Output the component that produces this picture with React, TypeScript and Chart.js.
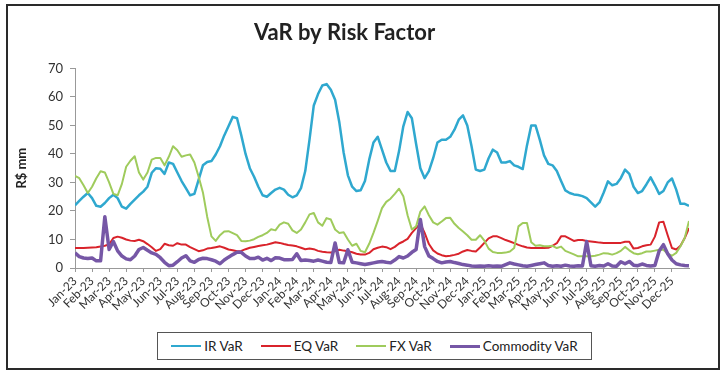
import React, { useEffect, useRef } from "react";
import { Chart, registerables } from "chart.js";

Chart.register(...registerables);

const FONT = "Lato, 'Open Sans', 'DejaVu Sans', sans-serif";

const MONTHS = [
  "Jan-23", "Feb-23", "Mar-23", "Apr-23", "May-23", "Jun-23", "Jul-23", "Aug-23", "Sep-23", "Oct-23", "Nov-23", "Dec-23",
  "Jan-24", "Feb-24", "Mar-24", "Apr-24", "May-24", "Jun-24", "Jul-24", "Aug-24", "Sep-24", "Oct-24", "Nov-24", "Dec-24",
  "Jan-25", "Feb-25", "Mar-25", "Apr-25", "May-25", "Jun-25", "Jul-25", "Aug-25", "Sep-25", "Oct-25", "Nov-25", "Dec-25",
];

const POINTS_PER_MONTH = 4;

const SERIES_NAMES = ["IR VaR", "EQ VaR", "FX VaR", "Commodity VaR"];
const SERIES_COLORS = ["#2fa8cf", "#d9232b", "#9fcb5c", "#7657a6"];
const SERIES_WIDTHS = [2.5, 2, 2, 3.5];

const IR_VAR = [
  22, 23.5, 25, 26.3,
  24.5, 21.8, 21.5, 22.8,
  24.5, 25.7, 24.5, 21.5,
  20.8, 22.5, 24, 25.5,
  26.8, 28.5, 33.4, 35,
  34.8, 33, 37, 36.5,
  33.5, 30.5, 28, 25.5,
  26, 31, 36, 37.2,
  37.5, 39.8, 42.7, 46.5,
  49.7, 53, 52.5, 46.5,
  40, 35, 32, 28.5,
  25.5, 25, 26.3, 27.5,
  28.1, 27.5, 25.7, 24.8,
  25.5, 28, 34, 45,
  57, 61, 64, 64.5,
  62.5, 59, 51, 40.5,
  32.5, 28.5, 27, 27.3,
  30.5, 38, 44, 46,
  41.5, 37, 34, 34,
  41, 49.7, 54.7, 52.5,
  43.5, 35, 31.5, 34,
  38.5, 44, 45, 45,
  46, 48.5, 52, 53.5,
  50, 42.7, 34.5, 34,
  34.5, 38.5, 41.5, 40.5,
  37, 37, 37.5, 36,
  35.5, 34.7, 43, 50,
  50, 45, 39.5, 36.5,
  36, 34, 30.5, 27.2,
  26.3, 25.8, 25.6, 25.2,
  24.5, 23, 21.5, 23,
  26.5, 30.4, 29, 29.5,
  31.5, 34.5, 33, 28.5,
  26.3, 27, 29.3, 31.8,
  29, 26, 27, 30,
  31.4, 27.5, 22.5, 22.5,
  21.8,
];

const EQ_VAR = [
  7, 7, 7, 7.1,
  7.2, 7.3, 7.5, 7.8,
  8.3, 10.5, 11, 10.6,
  10, 9.6, 9.5, 9.9,
  9.4, 8.4, 7.3, 6,
  6.6, 8.5, 8, 7.8,
  8.7, 8.2, 8.2, 7.3,
  6.6, 5.9, 6.2, 6.8,
  7, 7.3, 7.6, 7.1,
  6.5, 6.2, 5.9, 6,
  6.6, 7.1, 7.4, 7.7,
  8, 8.2, 8.6, 9,
  8.8, 8.4, 8.1, 7.9,
  7.6, 7.1, 6.6, 6.8,
  6.6, 6, 5.7, 5.5,
  5.4, 5.9, 6.4, 6.1,
  5.9, 5.5, 5, 4.7,
  4.7, 5.3, 6.6, 7.1,
  7.5, 7.3, 6.6, 7.4,
  8.6, 9.3, 10.2, 12.3,
  14, 15.5, 12.3, 8.4,
  6.2, 5.1, 4.5, 4.1,
  4.3, 4.6, 5, 5.8,
  6.3, 6, 5.8, 7.2,
  8.8, 10.4, 11.1, 11.1,
  10.5, 9.8, 9.3, 8.7,
  8.1, 7.6, 7.2, 7,
  7, 7, 7, 7.1,
  7.8, 8.7, 11.1, 11.1,
  10.3, 9.5, 9.8, 9.8,
  9.5, 9.3, 9.1, 8.9,
  8.8, 8.8, 8.8, 8.8,
  8.8, 9.2, 9.2, 6.8,
  7, 7.6, 8, 8.2,
  11, 16, 16.2, 11.5,
  7, 6.5, 7.8, 10.5,
  14,
];

const FX_VAR = [
  32.3, 31.5, 29, 26.3,
  28.5, 31.5, 33.9, 33.5,
  30, 26, 25.5, 29.5,
  35.5, 37.6, 39.2, 33.5,
  31, 33.5, 38, 38.6,
  38.6, 36, 39, 42.7,
  41.3, 39, 39.5, 39.8,
  37, 32, 26.5, 18,
  11.1, 9.5, 11.5, 12.8,
  12.9, 12.2, 11.5, 9.5,
  9.4, 9.6, 10.1, 10.9,
  11.5, 12.3, 13.6, 13.2,
  15.2, 16, 15.5, 13.2,
  12.3, 13.5, 16, 18.8,
  19.3, 16, 14.8, 17.5,
  17, 13.5, 12.3, 12.5,
  10, 7.8, 8.5, 6,
  5.5, 8.5, 12.3, 16.5,
  21, 23.2, 24.3, 26,
  27.8, 25.2, 18.5, 13.5,
  14.6, 19.8, 21.6, 18.5,
  16, 15.2, 16.3, 17.5,
  17.6, 15.5, 14, 12.8,
  11.5, 9.9, 9.9, 11.5,
  9.6, 6.8, 5.6, 5.3,
  5.3, 5.4, 5.8, 7,
  14.6, 15.8, 15.8, 9,
  7.8, 8, 7.6, 7.6,
  7.8, 7, 7.5, 6,
  5.4, 4.8, 4.1, 4.1,
  4.1, 4.1, 4.3, 4.7,
  5.2, 5.1, 4.7, 5.2,
  6, 7.4, 6.2, 5.2,
  4.8, 5.2, 5.8, 5.8,
  6.1, 6.4, 6.4, 5,
  4.3, 5.3, 7.6, 10.5,
  16.5,
];

const COMMODITY_VAR = [
  5.3, 4, 3.5, 3.3,
  3.5, 2.5, 2.5, 18,
  6.5, 9.3, 6, 4.2,
  3.2, 2.9, 4.2, 6.5,
  7.2, 6.2, 5.3, 4.8,
  3.6, 2, 0.8, 1,
  2.2, 3.5, 4.3, 2.5,
  2, 3, 3.4, 3.3,
  2.9, 2.4, 1.5, 2.8,
  3.8, 4.7, 5.5, 5.5,
  4.2, 3.3, 3.3, 3.8,
  2.8, 3.4, 2.6, 3.6,
  3.5, 2.9, 2.9, 3,
  5, 2.6, 2.8, 2.6,
  2.4, 2.8, 2.4, 2,
  1.9, 8.8, 1.9, 1.8,
  6.4, 2, 1.8, 1.5,
  1.2, 1.5, 1.8, 2.1,
  2.3, 2, 1.8, 2.8,
  4, 3.5, 4.2, 5.5,
  6.5, 17, 7.5, 4.2,
  3.3, 2.3, 1.8, 2.1,
  2.3, 1.9, 1.6, 1.2,
  1, 0.7, 0.6, 0.7,
  0.6, 0.8, 0.6, 0.7,
  0.6, 1.2, 1.8, 1.4,
  1.1, 0.8, 0.6, 0.9,
  1.2, 1.5, 1.8, 0.9,
  0.6, 0.8, 0.6, 1,
  0.7, 0.6, 0.8, 0.7,
  9.3, 0.8, 0.6, 0.9,
  0.7, 1.5, 0.7, 0.6,
  2.2, 1.5, 2.3, 1,
  0.8, 1.4, 0.9, 0.7,
  0.9, 6, 8.2, 5,
  2.8, 1.5, 1.1, 0.9,
  0.8,
];

const SERIES_VALUES = [IR_VAR, EQ_VAR, FX_VAR, COMMODITY_VAR];

const Y_MIN = 0;
const Y_MAX = 70;
const Y_STEP = 10;

function toPoints(values: number[]) {
  return values.map((v, i) => ({ x: i / POINTS_PER_MONTH, y: v }));
}

export default function App() {
  const ref = useRef<HTMLCanvasElement | null>(null);

  useEffect(() => {
    if (!ref.current) return;
    Chart.defaults.font.family = FONT;
    const chart = new Chart(ref.current, {
      type: "line",
      data: {
        datasets: SERIES_NAMES.map((name, i) => ({
          label: name,
          data: toPoints(SERIES_VALUES[i]),
          borderColor: SERIES_COLORS[i],
          backgroundColor: SERIES_COLORS[i],
          borderWidth: SERIES_WIDTHS[i],
          pointRadius: 0,
          tension: 0,
          fill: false,
          order: SERIES_NAMES.length - i,
          borderJoinStyle: "round",
        })),
      },
      options: {
        animation: false,
        responsive: false,
        maintainAspectRatio: false,
        devicePixelRatio: 1,
        layout: { padding: { top: 20, right: 37, bottom: 0, left: 0 } },
        plugins: {
          legend: { display: false },
          tooltip: { enabled: false },
          title: {
            display: true,
            text: "VaR by Risk Factor",
            color: "#222",
            font: { family: FONT, size: 22, weight: "bold" },
            padding: { top: 0, bottom: 22 },
          },
        },
        scales: {
          x: {
            type: "linear",
            min: 0,
            max: MONTHS.length,
            afterBuildTicks: (s: any) => {
              s.ticks = MONTHS.map((_, i) => ({ value: i }));
            },
            afterFit: (s: any) => {
              s.height = 62;
            },
            ticks: {
              autoSkip: false,
              maxRotation: 45,
              minRotation: 45,
              padding: 2,
              color: "#333",
              font: { family: FONT, size: 12 },
              callback: (v: any) => MONTHS[v as number] ?? "",
            },
            grid: { drawOnChartArea: false, drawTicks: true, tickLength: 4, color: "#999" },
            border: { display: true, color: "#999", width: 1 },
          },
          y: {
            min: Y_MIN,
            max: Y_MAX,
            afterFit: (s: any) => {
              s.width = 75;
            },
            ticks: {
              stepSize: Y_STEP,
              padding: 7,
              color: "#333",
              font: { family: FONT, size: 13 },
            },
            title: {
              display: true,
              text: "R$ mm",
              color: "#222",
              font: { family: FONT, size: 13, weight: "bold" },
              padding: { top: 14, bottom: 0 },
            },
            grid: { drawOnChartArea: false, drawTicks: true, tickLength: 5, color: "#999" },
            border: { display: true, color: "#999", width: 1 },
          },
        },
      },
    } as any);
    return () => chart.destroy();
  }, []);

  return (
    <div style={{ position: "absolute", left: 0, top: 0, width: 726, height: 373, background: "#fff", fontFamily: FONT }}>
      <div
        style={{
          position: "absolute",
          left: 6,
          top: 4,
          width: 710,
          height: 362,
          border: "2px solid #2a2a2a",
        }}
      />
      <canvas
        ref={ref}
        width={726}
        height={330}
        style={{ position: "absolute", left: 0, top: 0, width: 726, height: 330, display: "block" }}
      />
      <div
        style={{
          position: "absolute",
          left: 157,
          top: 332,
          width: 435,
          height: 28,
          boxSizing: "border-box",
          border: "1px solid #555",
          display: "flex",
          alignItems: "center",
          justifyContent: "center",
          gap: 18,
          fontSize: 13.5,
          color: "#222",
        }}
      >
        {SERIES_NAMES.map((name, i) => (
          <div key={name} style={{ display: "flex", alignItems: "center" }}>
            <span
              style={{
                display: "inline-block",
                width: 30,
                height: i === 3 ? 3 : 2,
                background: SERIES_COLORS[i],
                marginRight: 3,
              }}
            />
            <span>{name}</span>
          </div>
        ))}
      </div>
    </div>
  );
}
